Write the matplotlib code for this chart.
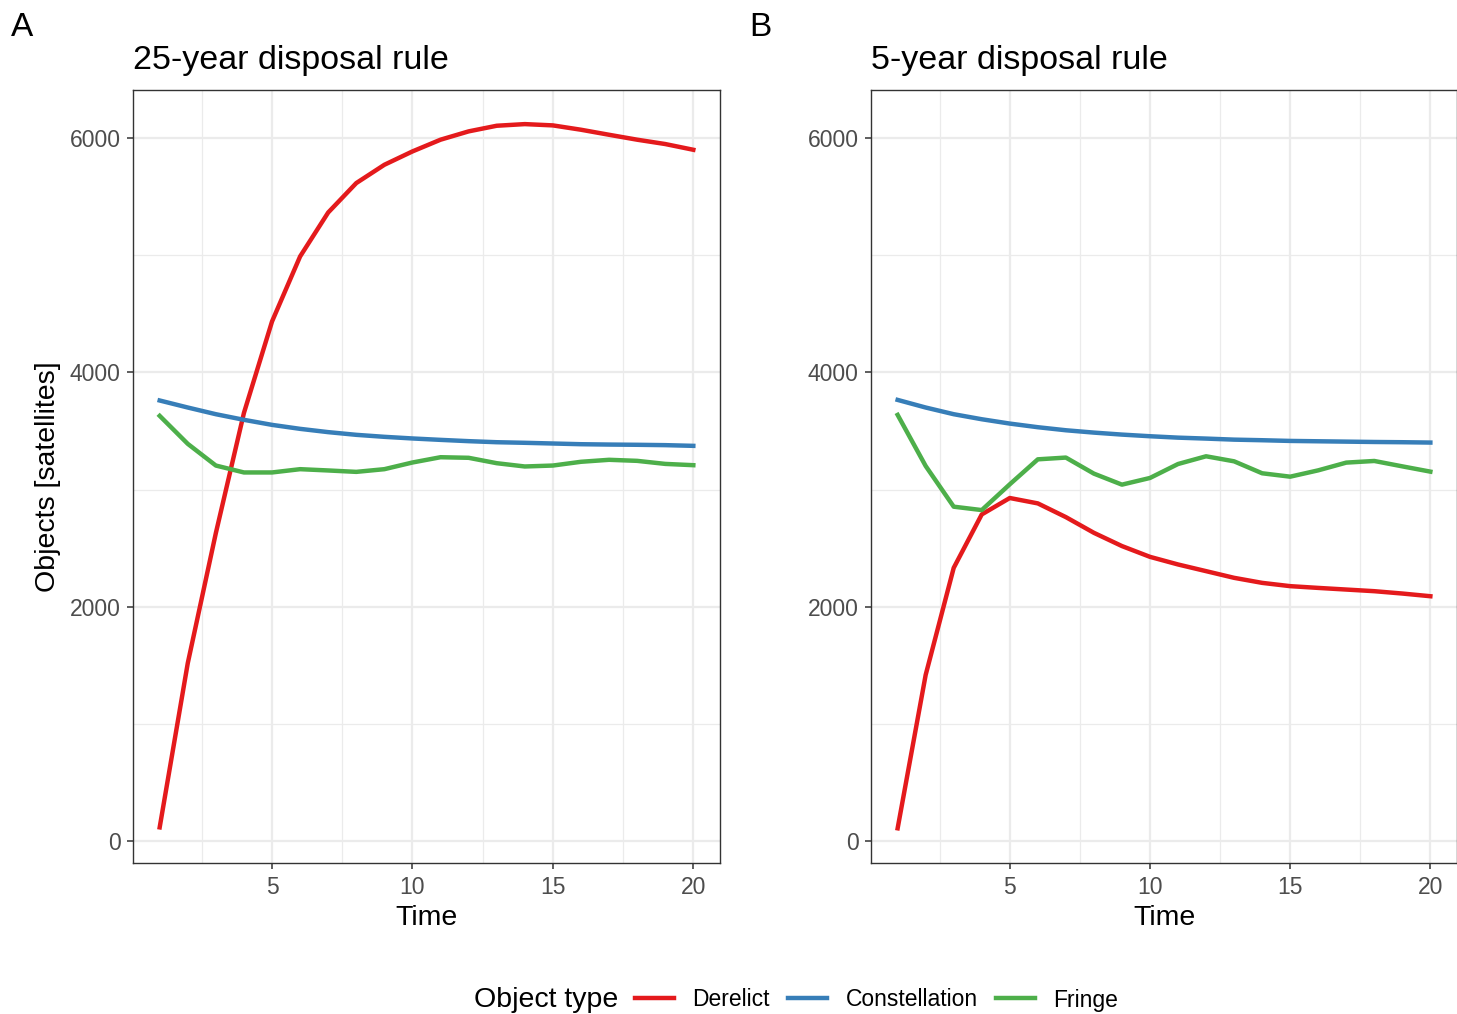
import matplotlib
matplotlib.use("Agg")
import matplotlib.pyplot as plt
import numpy as np
from matplotlib.lines import Line2D

plt.rcParams['font.family'] = ['Liberation Sans', 'DejaVu Sans']

time = np.arange(1, 21)

# panel A: 25-year disposal rule
derelict_25 = [119, 1520, 2630, 3655, 4435, 4990, 5365, 5616, 5772, 5886,
               5986, 6057, 6105, 6119, 6108, 6071, 6028, 5986, 5949, 5900]
constellation_25 = [3761, 3701, 3644, 3596, 3553, 3519, 3491, 3468, 3451, 3437,
                    3425, 3414, 3405, 3400, 3394, 3388, 3385, 3383, 3380, 3374]
fringe_25 = [3630, 3391, 3206, 3147, 3147, 3175, 3164, 3152, 3175, 3232,
             3277, 3272, 3226, 3198, 3206, 3238, 3255, 3246, 3220, 3209]

# panel B: 5-year disposal rule
derelict_5 = [111, 1420, 2333, 2789, 2929, 2883, 2766, 2632, 2519, 2427,
              2362, 2305, 2248, 2205, 2177, 2162, 2148, 2134, 2114, 2091]
constellation_5 = [3766, 3701, 3644, 3601, 3564, 3533, 3507, 3487, 3470, 3456,
                   3444, 3436, 3427, 3422, 3416, 3413, 3410, 3407, 3405, 3402]
fringe_5 = [3638, 3202, 2855, 2826, 3046, 3259, 3274, 3137, 3043, 3100,
            3219, 3285, 3242, 3140, 3111, 3165, 3231, 3245, 3199, 3154]

labels = ['Derelict', 'Constellation', 'Fringe']
colors = ['#E41A1C', '#377EB8', '#4DAF4A']
titles = ['25-year disposal rule', '5-year disposal rule']

fig = plt.figure(figsize=(14.57, 10.14), dpi=100)
ax_a = fig.add_axes([133/1457, 1-863/1014, 587/1457, 773/1014])
ax_b = fig.add_axes([871/1457, 1-863/1014, 586/1457, 773/1014])

panels = [(ax_a, [derelict_25, constellation_25, fringe_25]),
          (ax_b, [derelict_5, constellation_5, fringe_5])]

for i, (ax, series) in enumerate(panels):
    for s, c, lab in zip(series, colors, labels):
        ax.plot(time, s, color=c, lw=3.2, label=lab, zorder=3)
    ax.set_xlim(0.05, 20.95)
    ax.set_ylim(-185, 6410)
    ax.set_xticks([5, 10, 15, 20])
    ax.set_xticks([2.5, 7.5, 12.5, 17.5], minor=True)
    ax.set_yticks([0, 2000, 4000, 6000])
    ax.set_yticks([1000, 3000, 5000], minor=True)
    ax.grid(which='major', color='#EBEBEB', lw=1.6, zorder=0)
    ax.grid(which='minor', color='#EBEBEB', lw=0.9, zorder=0)
    ax.tick_params(which='major', length=4, width=1.1, color='#333333',
                   labelsize=16.5, labelcolor='#4D4D4D', pad=5)
    ax.tick_params(which='minor', length=0)
    for sp in ax.spines.values():
        sp.set_color('#333333')
        sp.set_linewidth(1.0)
    ax.set_xlabel('Time', fontsize=20.5, labelpad=5)
    ax.set_title(titles[i], loc='left', fontsize=24.5, pad=15)
    ax.set_axisbelow(True)

ax_a.set_ylabel('Objects [satellites]', fontsize=20.5, labelpad=6)

fig.text(22/1457, 1-28/1014, 'A', fontsize=24, ha='center', va='center')
fig.text(760/1457, 1-28/1014, 'B', fontsize=24, ha='center', va='center')

# legend along the bottom
handles = [Line2D([], [], color=c, lw=3.2) for c in colors]
fig.text(474/1457, 1-1000/1014, 'Object type', fontsize=20.5, ha='left', va='center')
fig.legend(handles, labels, ncol=3, loc='center left',
           bbox_to_anchor=(635/1457, 1-1000/1014), frameon=False, fontsize=16.5,
           handlelength=1.7, handletextpad=0.8, columnspacing=0.8,
           borderpad=0, borderaxespad=0)

fig.savefig('out.png', dpi=100, facecolor='white')
